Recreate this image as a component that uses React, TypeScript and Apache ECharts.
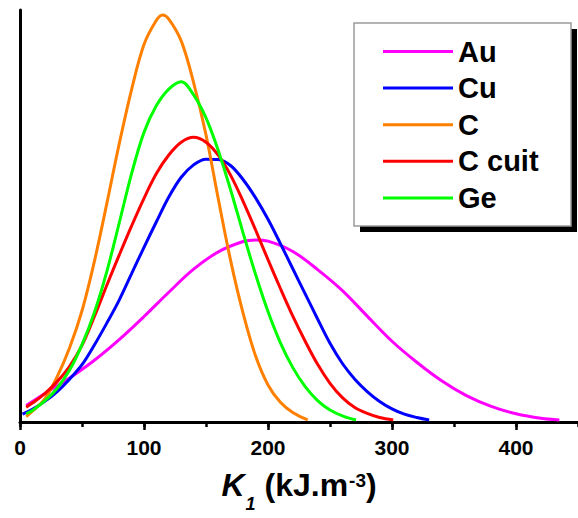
import React, { useEffect, useRef } from 'react';
import * as echarts from 'echarts';

const FONT = '"Liberation Sans", Arial, Helvetica, sans-serif';

const seriesNames = ['Au', 'Cu', 'C', 'C cuit', 'Ge'];
const seriesColors = ['#ff00ff', '#0000ff', '#ff8000', '#ff0000', '#00ff00'];

// K1 (kJ.m-3) positions and relative frequency (arbitrary units, 0-100)
const auK = [5, 20, 40, 60, 80, 100, 120, 140, 160, 180, 190, 200, 220, 240, 260, 280, 300, 320, 340, 360, 380, 400, 420, 435];
const auD = [4.0, 6.9, 10.7, 15.0, 20.0, 25.6, 31.5, 37.1, 41.3, 43.8, 44.2, 43.9, 41.4, 37.0, 31.9, 25.7, 19.6, 14.5, 10.0, 6.4, 3.8, 2.0, 0.9, 0.5];

const cuK = [2, 10, 20, 30, 40, 50, 60, 70, 80, 90, 100, 110, 120, 130, 140, 150, 160, 170, 180, 190, 200, 210, 220, 230, 240, 250, 260, 270, 280, 290, 300, 310, 320, 330];
const cuD = [1.9, 3.1, 5.0, 7.4, 10.4, 13.9, 18.7, 24.0, 29.6, 36.0, 42.4, 48.6, 54.6, 59.4, 62.4, 63.8, 63.7, 62.2, 58.8, 54.4, 49.2, 43.3, 37.2, 31.1, 25.0, 19.1, 14.2, 10.4, 7.4, 5.0, 3.2, 1.9, 1.1, 0.5];

const cK = [5, 10, 20, 30, 40, 50, 60, 70, 80, 90, 100, 110, 115, 120, 130, 140, 150, 160, 170, 180, 190, 200, 210, 220, 232];
const cD = [1.3, 2.6, 5.6, 11.0, 18.0, 27.0, 39.0, 53.0, 67.5, 80.7, 91.6, 97.5, 98.8, 97.8, 92.5, 82.4, 69.7, 54.0, 39.0, 26.3, 16.0, 9.0, 4.8, 2.3, 0.5];

const ccK = [5, 10, 20, 30, 40, 50, 60, 70, 80, 90, 100, 110, 120, 130, 140, 150, 160, 170, 180, 190, 200, 210, 220, 230, 240, 250, 260, 270, 280, 290, 301];
const ccD = [3.6, 4.6, 6.9, 9.8, 13.5, 18.6, 25.6, 33.2, 40.5, 47.6, 54.3, 60.3, 64.8, 67.9, 69.1, 67.9, 64.7, 59.8, 53.5, 46.6, 39.4, 32.4, 25.7, 19.6, 14.0, 9.4, 5.9, 3.5, 2.1, 1.1, 0.5];

const geK = [5, 10, 20, 30, 40, 50, 60, 70, 80, 90, 100, 110, 120, 130, 140, 150, 160, 170, 180, 190, 200, 210, 220, 230, 240, 250, 260, 271];
const geD = [2.0, 2.8, 5.1, 8.2, 12.6, 18.8, 26.6, 36.5, 48.3, 60.3, 70.3, 76.8, 80.8, 82.6, 79.4, 73.8, 65.8, 56.2, 45.8, 35.8, 26.8, 19.2, 13.2, 8.6, 5.2, 2.9, 1.5, 0.5];

const seriesK = [auK, cuK, cK, ccK, geK];
const seriesD = [auD, cuD, cD, ccD, geD];

export default function App() {
  const ref = useRef<HTMLDivElement>(null);

  useEffect(() => {
    document.body.style.margin = '0';
    if (!ref.current) return;
    const chart = echarts.init(ref.current, null, { renderer: 'svg' });

    const axisLineStyle = { color: '#000', width: 3 };
    const tickStyle = { color: '#000', width: 2.5 };

    const option: any = {
      animation: false,
      backgroundColor: '#fff',
      grid: { left: 20, right: -8.7, top: 10, bottom: 89, containLabel: false },
      graphic: [
        { type: 'rect', z: 0, shape: { x: 360, y: 29, width: 217, height: 203 }, style: { fill: '#000' } },
        { type: 'rect', z: 1, shape: { x: 354, y: 23, width: 217, height: 203 }, style: { fill: '#fff', stroke: '#9a9a9a', lineWidth: 1.5 } },
      ],
      legend: {
        show: true,
        z: 10,
        orient: 'vertical',
        left: 383,
        top: 37,
        padding: 0,
        icon: 'rect',
        itemWidth: 70,
        itemHeight: 3,
        itemGap: 7.6,
        selectedMode: false,
        data: seriesNames,
        textStyle: { fontSize: 29, fontWeight: 'bold', color: '#000', fontFamily: FONT, lineHeight: 28 },
      },
      xAxis: [
        {
          type: 'value',
          position: 'bottom',
          min: 0,
          max: 450,
          interval: 50,
          axisLine: { show: true, onZero: false, lineStyle: axisLineStyle },
          axisTick: { show: true, inside: false, length: 5, lineStyle: tickStyle },
          axisLabel: { show: false },
          splitLine: { show: false },
          name: '{k|K}{s|1}{o|(kJ.m}{p|-3}{n|)}',
          nameLocation: 'middle',
          nameGap: 43,
          nameTextStyle: {
            color: '#000',
            fontFamily: FONT,
            rich: {
              k: { fontSize: 32, fontWeight: 'bold', fontStyle: 'italic', fontFamily: FONT, color: '#000', lineHeight: 40, verticalAlign: 'middle' },
              s: { fontSize: 18, fontWeight: 'bold', fontStyle: 'italic', fontFamily: FONT, color: '#000', lineHeight: 40, verticalAlign: 'middle', padding: [38, 0, 0, 1] },
              o: { fontSize: 32, fontWeight: 'bold', fontFamily: FONT, color: '#000', lineHeight: 40, verticalAlign: 'middle', padding: [0, 0, 0, 9] },
              p: { fontSize: 19, fontWeight: 'bold', fontFamily: FONT, color: '#000', lineHeight: 40, verticalAlign: 'middle', padding: [0, 0, 9, 1] },
              n: { fontSize: 32, fontWeight: 'bold', fontFamily: FONT, color: '#000', lineHeight: 40, verticalAlign: 'middle' },
            },
          },
        },
        {
          type: 'value',
          position: 'bottom',
          min: 0,
          max: 450,
          interval: 100,
          axisLine: { show: false, onZero: false },
          axisTick: { show: true, inside: false, length: 8, lineStyle: tickStyle },
          axisLabel: { show: true, fontSize: 21, fontWeight: 'bold', color: '#000', fontFamily: FONT, margin: 15, showMaxLabel: false },
          splitLine: { show: false },
        },
      ],
      yAxis: {
        type: 'value',
        min: 0,
        max: 100,
        axisLine: { show: true, onZero: false, lineStyle: axisLineStyle },
        axisTick: { show: false },
        axisLabel: { show: false },
        splitLine: { show: false },
      },
      series: seriesNames.map((name, i) => ({
        name,
        type: 'line',
        xAxisIndex: 0,
        yAxisIndex: 0,
        smooth: 0.35,
        showSymbol: false,
        symbol: 'none',
        data: seriesK[i].map((k, j) => [k, seriesD[i][j]]),
        lineStyle: { color: seriesColors[i], width: 3 },
        itemStyle: { color: seriesColors[i] },
      })),
    };

    chart.setOption(option);
    return () => chart.dispose();
  }, []);

  return <div ref={ref} style={{ width: 578, height: 518 }} />;
}
